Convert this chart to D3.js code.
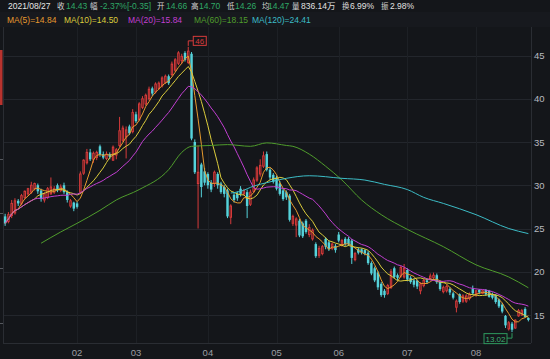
<!DOCTYPE html>
<html><head><meta charset="utf-8">
<script src="https://cdn.jsdelivr.net/npm/d3@7"></script>
<style>
html,body{margin:0;padding:0;background:#14161a;}
svg{display:block;}
text{font-family:"Liberation Sans","Noto Sans CJK SC",sans-serif;}
</style></head><body>
<svg id="c" width="550" height="359"></svg>
<script>
// ---------- data ----------
const open  = [26.4,25.8,26.5,26.8,28.2,27.9,28.6,29.0,29.2,29.6,30.0,29.4,28.3,28.6,29.0,29.2,30.0,29.4,30.0,29.2,27.6,28.0,27.9,29.2,31.4,32.6,33.8,33.0,33.2,34.5,33.6,33.1,33.6,32.9,33.5,34.6,35.2,35.6,36.8,36.2,38.2,37.6,39.0,39.4,40.0,41.2,40.8,41.2,41.5,41.9,42.6,42.8,43.3,44.1,44.4,45.3,44.2,45.2,35.0,30.2,32.4,31.6,31.3,30.3,30.2,31.3,30.2,29.8,29.4,26.3,28.9,29.0,29.6,29.0,29.2,27.8,29.3,30.6,31.3,32.2,33.6,31.8,31.2,30.9,30.2,29.4,29.2,28.8,25.6,25.4,25.9,25.6,25.9,24.3,23.8,23.2,21.9,22.1,23.8,23.4,22.7,23.0,24.3,23.1,23.8,23.8,23.6,21.4,22.6,22.6,22.5,22.2,21.0,20.4,19.9,18.6,17.8,17.5,18.2,20.4,19.6,19.5,19.4,20.2,19.3,19.0,19.0,17.8,18.4,19.0,19.2,19.3,19.6,18.9,17.7,17.8,18.0,17.5,15.9,17.4,16.6,16.6,16.9,18.0,17.3,17.9,17.5,17.9,17.8,17.4,17.3,16.8,16.2,14.9,13.4,14.0,13.5,14.9,15.0,15.7,14.66];
const high  = [26.7,26.9,28.3,28.5,28.4,29.0,29.4,29.7,30.4,30.3,30.2,29.6,29.2,29.8,30.9,29.9,30.2,30.1,30.3,29.4,28.4,28.1,28.1,31.6,33.0,34.2,34.2,33.9,34.0,34.7,33.9,33.9,33.8,34.6,34.3,37.9,36.9,36.8,37.0,38.8,38.5,39.6,40.3,40.6,41.4,41.4,41.9,42.0,42.6,42.8,42.8,44.3,44.7,45.5,45.2,45.5,46.0,45.4,35.3,34.6,32.6,32.0,31.5,30.6,31.7,31.5,30.4,30.0,29.6,27.8,29.2,29.3,29.9,29.6,29.5,29.5,30.9,32.2,33.0,33.9,33.9,32.0,31.4,31.1,30.5,29.6,29.4,29.0,26.6,26.3,26.1,25.8,26.1,25.5,25.0,23.4,23.0,23.1,24.0,23.6,23.4,23.2,24.6,23.8,24.0,24.0,23.8,22.3,22.8,22.7,22.6,22.4,21.2,20.6,20.1,18.8,18.0,18.6,20.3,20.6,19.8,20.7,20.9,20.4,19.5,19.2,19.1,18.8,19.2,19.2,19.8,19.9,19.8,19.0,18.4,18.5,18.2,17.7,16.8,17.5,17.4,17.4,17.6,18.4,17.9,18.0,17.9,18.0,17.9,17.6,17.4,16.9,16.4,15.0,14.3,14.2,14.5,15.7,15.7,15.9,14.70];
const low   = [25.3,25.6,26.2,26.6,27.6,27.7,28.4,28.8,29.0,29.4,29.0,28.1,28.0,28.4,28.9,29.0,29.2,29.2,29.0,28.0,27.4,27.0,27.3,29.0,31.2,32.4,32.8,32.6,32.9,33.3,33.0,32.9,33.0,32.8,33.0,34.4,35.0,33.1,35.8,36.0,37.2,37.4,38.8,39.2,39.8,40.3,40.6,41.0,41.3,41.7,41.6,42.6,43.1,43.9,44.0,44.3,44.0,35.2,31.3,25.0,28.6,30.0,29.6,29.2,29.8,29.6,29.0,28.6,26.2,25.5,28.0,28.2,28.7,28.8,26.2,27.6,29.1,30.4,31.0,32.0,31.6,30.6,30.2,29.4,28.8,28.2,28.3,25.8,25.3,24.0,24.0,23.9,24.4,24.0,23.6,21.6,21.6,21.9,22.6,22.4,22.5,22.2,23.4,22.9,23.0,23.0,20.9,21.2,22.0,22.0,21.9,20.8,19.6,18.8,17.9,17.1,17.0,17.3,18.0,19.2,19.0,19.3,19.2,18.9,18.6,18.2,18.0,17.4,18.2,18.6,19.0,19.1,18.6,17.8,17.5,17.6,17.3,16.8,15.3,16.3,16.4,16.4,16.7,17.3,17.1,17.4,17.4,17.2,17.0,16.8,16.3,15.8,15.2,13.5,13.2,13.02,13.4,14.8,14.9,14.7,14.26];
const close = [25.6,26.6,27.9,28.2,27.9,28.8,29.3,29.6,30.0,30.2,29.3,28.4,29.0,29.6,29.8,29.6,29.4,29.8,29.2,28.3,28.2,27.3,27.5,31.3,32.9,33.8,33.0,33.7,33.8,33.5,33.2,33.6,33.3,34.4,34.1,36.3,36.6,36.4,36.0,38.4,37.4,39.4,40.0,40.4,41.1,40.6,41.7,41.8,42.4,42.6,41.8,44.0,44.5,45.3,44.9,44.5,45.5,35.4,31.5,31.5,29.8,30.3,30.0,29.5,31.5,30.0,29.2,29.0,26.4,27.6,28.3,28.5,29.0,29.4,27.6,29.2,30.6,32.0,32.3,33.4,31.8,30.9,30.4,29.6,29.0,28.4,28.6,26.0,26.4,26.1,24.2,24.1,24.6,25.1,24.8,21.8,22.7,22.9,22.9,22.6,23.2,22.5,23.6,23.6,23.2,23.2,21.6,22.1,22.2,22.2,22.1,21.0,19.8,19.0,18.2,17.3,17.3,18.4,20.0,19.4,19.3,20.5,20.4,19.1,18.8,18.5,18.3,18.6,19.0,18.8,19.5,19.6,18.8,18.0,18.2,18.3,17.6,17.0,16.6,16.5,17.2,17.2,17.4,17.5,17.8,17.6,17.8,17.4,17.1,17.0,16.5,16.0,15.4,13.8,14.1,13.3,14.4,15.5,15.5,14.78,14.43];

const monthLabels = ["02","03","04","05","06","07","08"];
const monthIdx    = [22,40,62,83,102,123,144];
const yTicks      = [15,20,25,30,35,40,45];

const ma60Idx = [11,17,22,29,34,41,50,54,57,63,68,75,80,86,88,93,98,103,109,115,123,134,144,154,160];
const ma60Val = [23.3,24.6,25.6,27.1,28.3,29.5,31.8,33.8,34.5,34.6,34.7,34.5,34.9,34.6,34.5,33.6,32.2,30.6,28.3,26.6,24.9,22.9,20.8,19.4,18.15];
const ma120Idx = [69,72,76,80,86,93,103,110,116,123,128,134,144,154,160];
const ma120Val = [29.1,29.3,29.9,30.3,30.8,31.1,30.8,30.6,30.1,29.5,28.6,27.9,26.6,25.0,24.41];

const maPeriods = [5,10,20];

const headerTexts  = ["2021/08/27","收","14.43","幅","-2.37%[-0.35]","开","14.66","高","14.70","低","14.26","均","14.47","量","836.14万","换","6.99%","振","2.98%"];
const headerKinds  = ["d","l","v","l","v","l","v","l","v","l","v","l","v","l","n","l","n","l","n"];
const legendTexts  = ["MA(5)=14.84","MA(10)=14.50","MA(20)=15.84","MA(60)=18.15","MA(120)=24.41"];

// ---------- layout / style ----------
const headerX = [8,57,66,90,100,157,166,191,199,227,235,262,268,292,301,342,350,381,390];
const legendX = [7,64,128,194,252];
const kindColor = {d:"#e6e6e6", l:"#d4d4d4", v:"#2fa866", n:"#e0e0e0"};
const kindSize  = {d:8.5, l:7.5, v:8.5, n:8.5};
const maColors = ["#e69a2e","#dccd3c","#c23fd2","#4f9c2c","#3cbcc6"];
const UP = "#d63b3b", UPFILL = "#3a1517", DOWN = "#55d2da";

const svg = d3.select("#c");
const N = close.length;
const L = 3, R = 531, T = 27, B = 343;

svg.append("rect").attr("x",0).attr("y",0).attr("width",550).attr("height",359).attr("fill","#14161a");
svg.append("rect").attr("x",0).attr("y",12).attr("width",550).attr("height",15).attr("fill","#17191e");

const x = d3.scaleBand().domain(d3.range(N)).range([3.5,530]).paddingInner(0.25).paddingOuter(0.125);
const y = d3.scaleLinear().domain([15,45]).range([315,55.5]);
const cx = i => x(0) + x.step()*i + x.bandwidth()/2;

// grid
const g = svg.append("g");
g.selectAll("line.h").data(yTicks).join("line")
  .attr("x1",L).attr("x2",R).attr("y1",d=>Math.round(y(d))+0.5).attr("y2",d=>Math.round(y(d))+0.5)
  .attr("stroke","#23262c").attr("stroke-width",1);
g.selectAll("line.v").data(monthIdx).join("line")
  .attr("x1",d=>Math.round(cx(d))+0.5).attr("x2",d=>Math.round(cx(d))+0.5).attr("y1",T).attr("y2",B)
  .attr("stroke","#1d2025").attr("stroke-width",1);
g.append("line").attr("x1",L).attr("x2",R).attr("y1",B+0.5).attr("y2",B+0.5).attr("stroke","#2a2d33");
g.append("line").attr("x1",R+0.5).attr("x2",R+0.5).attr("y1",T).attr("y2",B).attr("stroke","#2a2d33");
g.append("line").attr("x1",L+0.5).attr("x2",L+0.5).attr("y1",T).attr("y2",B).attr("stroke","#2a2d33");
// left edge marks
svg.append("rect").attr("x",0).attr("y",50).attr("width",2.5).attr("height",55).attr("fill","#b8332e");
svg.selectAll("line.lt").data([159,213,268,323]).join("line")
  .attr("x1",0).attr("x2",3).attr("y1",d=>d+0.5).attr("y2",d=>d+0.5).attr("stroke","#55585e");

// y labels
svg.selectAll("text.yl").data(yTicks).join("text")
  .attr("x",534).attr("y",d=>y(d)+3.5).attr("font-size",9.5).attr("fill","#b8bac0").text(d=>d);
// x labels
svg.selectAll("text.xl").data(monthIdx).join("text")
  .attr("x",d=>cx(d)).attr("y",356).attr("text-anchor","middle").attr("font-size",9.5).attr("fill","#9c9ea4")
  .text((d,i)=>monthLabels[i]);

// candles
const idx = d3.range(N);
const cg = svg.append("g");
cg.selectAll("line.w").data(idx).join("line")
  .attr("x1",i=>cx(i)).attr("x2",i=>cx(i)).attr("y1",i=>y(high[i])).attr("y2",i=>y(low[i]))
  .attr("stroke",i=>close[i]>=open[i]?UP:DOWN).attr("stroke-width",1);
cg.selectAll("rect.b").data(idx).join("rect")
  .attr("x",i=>x(i)+(close[i]>=open[i]?0.5:0))
  .attr("width",i=>x.bandwidth()-(close[i]>=open[i]?1:0))
  .attr("y",i=>y(Math.max(open[i],close[i])))
  .attr("height",i=>Math.max(1,Math.abs(y(open[i])-y(close[i]))))
  .attr("fill",i=>close[i]>=open[i]?UPFILL:DOWN)
  .attr("stroke",i=>close[i]>=open[i]?UP:"none").attr("stroke-width",1);

// moving averages from closes
function ma(p){ return idx.map(i=>{ const s=Math.max(0,i-p+1); return d3.mean(close.slice(s,i+1)); }); }
const line = d3.line().x(d=>cx(d[0])).y(d=>y(d[1]));
maPeriods.forEach((p,k)=>{
  const m = ma(p);
  svg.append("path").attr("d",line(idx.map(i=>[i,m[i]]))).attr("fill","none")
    .attr("stroke",maColors[k]).attr("stroke-width",1);
});
const sline = d3.line().x(d=>cx(d[0])).y(d=>y(d[1])).curve(d3.curveMonotoneX);
svg.append("path").attr("d",sline(ma60Idx.map((v,i)=>[v,ma60Val[i]]))).attr("fill","none").attr("stroke",maColors[3]).attr("stroke-width",1);
svg.append("path").attr("d",sline(ma120Idx.map((v,i)=>[v,ma120Val[i]]))).attr("fill","none").attr("stroke",maColors[4]).attr("stroke-width",1);

// high / low markers
const hiI = d3.maxIndex(high), loI = d3.minIndex(low);
const hx = cx(hiI), hy = y(high[hiI]);
svg.append("path").attr("d",`M${hx},${hy-1}V${hy-6}H${hx+5}`).attr("fill","none").attr("stroke",UP);
svg.append("rect").attr("x",hx+5).attr("y",hy-10.5).attr("width",13).attr("height",9).attr("fill","#14161a").attr("stroke",UP);
svg.append("text").attr("x",hx+11.5).attr("y",hy-3).attr("text-anchor","middle").attr("font-size",8).attr("fill",UP).text(d3.format("d")(high[hiI]));
const lx = cx(loI), ly = y(low[loI]);
svg.append("path").attr("d",`M${lx},${ly+1}V${ly+6}H${lx-5}`).attr("fill","none").attr("stroke","#2e9a5e");
svg.append("rect").attr("x",lx-28).attr("y",ly+1.5).attr("width",23).attr("height",10).attr("fill","#14161a").attr("stroke","#2e9a5e");
svg.append("text").attr("x",lx-16.5).attr("y",ly+9.5).attr("text-anchor","middle").attr("font-size",8).attr("fill","#3fb074").text(d3.format(".2f")(low[loI]));

// header
svg.selectAll("text.h").data(headerTexts).join("text")
  .attr("x",(d,i)=>headerX[i]).attr("y",9).attr("font-size",(d,i)=>kindSize[headerKinds[i]])
  .attr("fill",(d,i)=>kindColor[headerKinds[i]]).text(d=>d);
svg.selectAll("text.lg").data(legendTexts).join("text")
  .attr("x",(d,i)=>legendX[i]).attr("y",22.5).attr("font-size",8.5).attr("fill",(d,i)=>maColors[i]).text(d=>d);
</script>
</body></html>
